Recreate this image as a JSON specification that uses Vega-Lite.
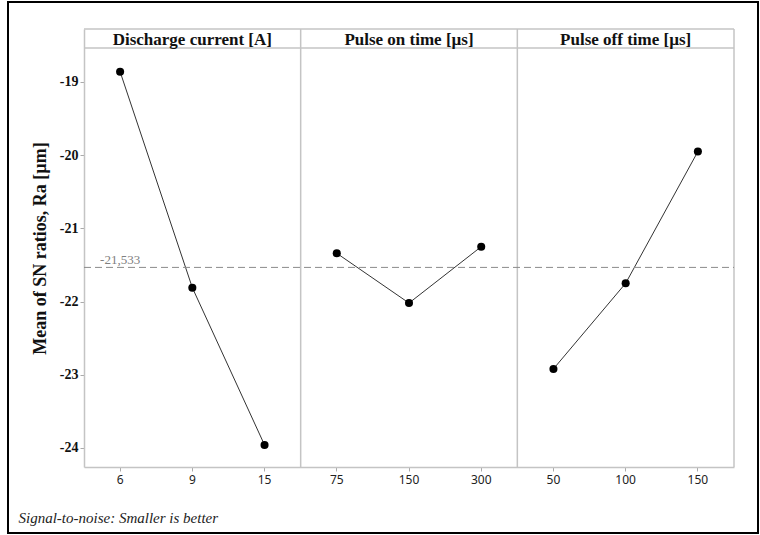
{
  "$schema": "https://vega.github.io/schema/vega-lite/v6.json",
  "width": 750,
  "height": 531,
  "autosize": {"type": "none"},
  "padding": {"left": 8, "top": 2, "right": 2, "bottom": 2},
  "background": "white",
  "view": {"stroke": "black", "strokeWidth": 2, "fill": "white"},
  "config": {"axis": {"grid": false}},
  "data": {
    "values": [
      {"factor": "Discharge current [A]", "level": "6", "key": "1a|6", "sn": -18.86},
      {"factor": "Discharge current [A]", "level": "9", "key": "1b|9", "sn": -21.81},
      {"factor": "Discharge current [A]", "level": "15", "key": "1c|15", "sn": -23.96},
      {"factor": "Pulse on time [µs]", "level": "75", "key": "2a|75", "sn": -21.34},
      {"factor": "Pulse on time [µs]", "level": "150", "key": "2b|150", "sn": -22.02},
      {"factor": "Pulse on time [µs]", "level": "300", "key": "2c|300", "sn": -21.25},
      {"factor": "Pulse off time [µs]", "level": "50", "key": "3a|50", "sn": -22.92},
      {"factor": "Pulse off time [µs]", "level": "100", "key": "3b|100", "sn": -21.75},
      {"factor": "Pulse off time [µs]", "level": "150", "key": "3c|150", "sn": -19.95}
    ]
  },
  "layer": [
    {
      "mark": {"type": "line", "color": "#333333", "strokeWidth": 1},
      "encoding": {
        "x": {
          "field": "key", "type": "nominal", "sort": "ascending",
          "scale": {"type": "band", "range": [76, 726], "paddingInner": 0, "paddingOuter": 0},
          "axis": {
            "orient": "bottom", "offset": -66, "bandPosition": 0.5, "labelAngle": 0,
            "labelExpr": "split(datum.label, '|')[1]",
            "labelFont": "Noto Sans", "labelFontSize": 12, "labelColor": "#222222", "labelPadding": 3,
            "domainColor": "#c4c4c4", "domainWidth": 1.5, "tickColor": "#aaaaaa", "tickSize": 4,
            "title": "Signal-to-noise: Smaller is better",
            "titleFont": "Liberation Serif", "titleFontStyle": "italic", "titleFontWeight": "normal",
            "titleFontSize": 15, "titleColor": "#222222", "titleAnchor": "start", "titleAlign": "left",
            "titleX": 10, "titleY": 55, "titleBaseline": "alphabetic"
          }
        },
        "y": {
          "field": "sn", "type": "quantitative",
          "scale": {"domain": [-24.26, -18.276], "range": [465, 27], "nice": false, "zero": false},
          "axis": {
            "orient": "left", "offset": -76, "values": [-24, -23, -22, -21, -20, -19],
            "labelExpr": "'-' + abs(datum.value)",
            "labelFont": "Liberation Serif", "labelFontWeight": "bold", "labelFontSize": 14,
            "labelColor": "#111111", "labelPadding": 2,
            "domainColor": "#c4c4c4", "domainWidth": 1.5, "tickColor": "#aaaaaa", "tickSize": 4,
            "title": "Mean of SN ratios, Ra [µm]",
            "titleFont": "Liberation Serif", "titleFontWeight": "bold", "titleFontSize": 18,
            "titleColor": "#111111", "titlePadding": 10
          }
        },
        "detail": {"field": "factor", "type": "nominal"},
        "order": {"field": "key", "type": "nominal"}
      }
    },
    {
      "mark": {"type": "point", "filled": true, "color": "black", "size": 65, "opacity": 1},
      "encoding": {
        "x": {"field": "key", "type": "nominal"},
        "y": {"field": "sn", "type": "quantitative"}
      }
    },
    {
      "transform": [{"filter": {"field": "key", "oneOf": ["2a|75", "3a|50"]}}],
      "mark": {"type": "rule", "color": "#c4c4c4", "strokeWidth": 1.5},
      "encoding": {
        "x": {"field": "key", "type": "nominal", "bandPosition": 0},
        "y": {"datum": -18.276, "type": "quantitative"},
        "y2": {"datum": -24.26}
      }
    },
    {
      "transform": [{"filter": {"field": "key", "equal": "3c|150"}}],
      "mark": {"type": "rule", "color": "#c4c4c4", "strokeWidth": 1.5},
      "encoding": {
        "x": {"field": "key", "type": "nominal", "bandPosition": 1},
        "y": {"datum": -18.276, "type": "quantitative"},
        "y2": {"datum": -24.26}
      }
    },
    {
      "transform": [{"filter": {"field": "key", "equal": "1a|6"}}],
      "mark": {"type": "rule", "color": "#c4c4c4", "strokeWidth": 1.5},
      "encoding": {
        "x": {"datum": "1a|6", "type": "nominal", "bandPosition": 0},
        "x2": {"datum": "3c|150", "bandPosition": 1},
        "y": {"datum": -18.276, "type": "quantitative"}
      }
    },
    {
      "transform": [{"filter": {"field": "key", "equal": "1a|6"}}],
      "mark": {"type": "rule", "color": "#c4c4c4", "strokeWidth": 1.5},
      "encoding": {
        "x": {"datum": "1a|6", "type": "nominal", "bandPosition": 0},
        "x2": {"datum": "3c|150", "bandPosition": 1},
        "y": {"datum": -18.536, "type": "quantitative"}
      }
    },
    {
      "transform": [{"filter": {"field": "key", "equal": "1a|6"}}],
      "mark": {"type": "rule", "color": "#8a8a8a", "strokeWidth": 1, "strokeDash": [7, 4]},
      "encoding": {
        "x": {"datum": "1a|6", "type": "nominal", "bandPosition": 0},
        "x2": {"datum": "3c|150", "bandPosition": 1},
        "y": {"datum": -21.533, "type": "quantitative"}
      }
    },
    {
      "transform": [{"filter": {"field": "key", "equal": "1a|6"}}],
      "mark": {"type": "text", "text": "-21,533", "font": "Liberation Serif", "fontSize": 13, "color": "#808080", "align": "center", "baseline": "alphabetic", "dy": -3},
      "encoding": {
        "x": {"field": "key", "type": "nominal"},
        "y": {"datum": -21.533, "type": "quantitative"}
      }
    },
    {
      "transform": [{"filter": {"field": "key", "oneOf": ["1b|9", "2b|150", "3b|100"]}}],
      "mark": {"type": "text", "font": "Liberation Serif", "fontSize": 17, "fontWeight": "bold", "color": "#111111", "align": "center", "baseline": "middle", "dy": 1},
      "encoding": {
        "x": {"field": "key", "type": "nominal"},
        "y": {"datum": -18.406, "type": "quantitative"},
        "text": {"field": "factor", "type": "nominal"}
      }
    }
  ]
}
